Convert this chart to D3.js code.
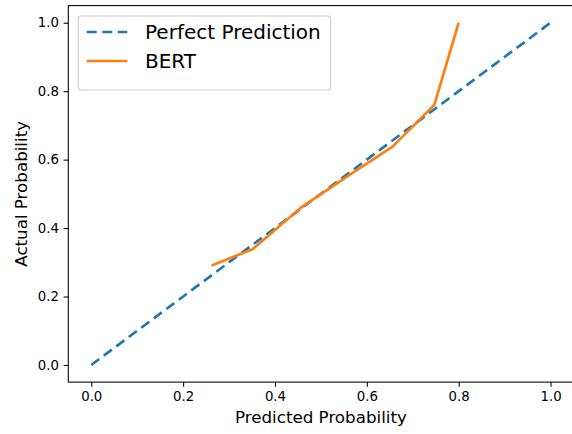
<!DOCTYPE html>
<html>
<head>
    <style>
        body { margin: 0; background: #fff; }
        svg { font-family: "DejaVu Sans", sans-serif; }
        .tick text { font-size: 13.3px; fill: #000; }
        .axis-label { font-size: 16.7px; fill: #000; }
        .legend text { font-size: 20px; fill: #000; }
    </style>
    <script src="https://d3js.org/d3.v7.min.js"></script>
</head>
<body>
    <svg width="572" height="434"></svg>
    <script>
    // perfect calibration diagonal
    var perfectX = [0, 1];
    var perfectY = [0, 1];

    // BERT calibration curve
    var bertX = [0.262, 0.351, 0.455, 0.560, 0.656, 0.747, 0.800];
    var bertY = [0.291, 0.338, 0.458, 0.553, 0.638, 0.760, 1.000];

    var tickValues = [0, 0.2, 0.4, 0.6, 0.8, 1.0];

    function calibrationChart() {
        var svg = d3.select("svg");
        var left = 68.3, right = 573.5, top = 5.6, bottom = 382.1;

        var x = d3.scaleLinear().domain([-0.05, 1.05]).range([left, right]);
        var y = d3.scaleLinear().domain([-0.05, 1.05]).range([bottom, top]);

        var line = d3.line()
                     .x(function(d) { return x(d[0]); })
                     .y(function(d) { return y(d[1]); });

        var perfect = d3.zip(perfectX, perfectY);
        var bert = d3.zip(bertX, bertY);

        svg.append("path")
           .datum(perfect)
           .attr("d", line)
           .attr("fill", "none")
           .attr("stroke", "#1f77b4")
           .attr("stroke-width", 2.67)
           .attr("stroke-dasharray", "10,5.6");

        svg.append("path")
           .datum(bert)
           .attr("d", line)
           .attr("fill", "none")
           .attr("stroke", "#ff7f0e")
           .attr("stroke-width", 2.67)
           .attr("stroke-linejoin", "round");

        // frame
        svg.append("rect")
           .attr("x", left).attr("y", top)
           .attr("width", right - left).attr("height", bottom - top)
           .attr("fill", "none").attr("stroke", "#000").attr("stroke-width", 1.07);

        var xAxis = svg.append("g")
           .attr("transform", "translate(0," + bottom + ")")
           .call(d3.axisBottom(x).tickValues(tickValues).tickFormat(d3.format(".1f"))
                   .tickSize(4.7).tickPadding(4.7));
        var yAxis = svg.append("g")
           .attr("transform", "translate(" + left + ",0)")
           .call(d3.axisLeft(y).tickValues(tickValues).tickFormat(d3.format(".1f"))
                   .tickSize(4.7).tickPadding(4.7));

        [xAxis, yAxis].forEach(function(a) {
            a.select(".domain").remove();
            a.selectAll(".tick line").attr("stroke", "#000").attr("stroke-width", 1.07);
            a.selectAll(".tick text").attr("font-family", null).attr("font-size", null);
        });
        xAxis.attr("font-size", null).attr("font-family", null);
        yAxis.attr("font-size", null).attr("font-family", null);

        svg.append("text")
           .attr("class", "axis-label")
           .attr("x", (left + right) / 2)
           .attr("y", 423.3)
           .attr("text-anchor", "middle")
           .text("Predicted Probability");

        svg.append("text")
           .attr("class", "axis-label")
           .attr("transform", "translate(27.2," + ((top + bottom) / 2) + ") rotate(-90)")
           .attr("text-anchor", "middle")
           .text("Actual Probability");

        // legend
        var legend = svg.append("g").attr("class", "legend");
        legend.append("rect")
              .attr("x", 78.3).attr("y", 16)
              .attr("width", 252.4).attr("height", 74)
              .attr("rx", 3).attr("ry", 3)
              .attr("fill", "#fff").attr("fill-opacity", 0.8)
              .attr("stroke", "#cccccc").attr("stroke-width", 1.07);

        var items = [
            { label: "Perfect Prediction", color: "#1f77b4", dash: "10,5.6", cy: 32 },
            { label: "BERT", color: "#ff7f0e", dash: null, cy: 61 }
        ];
        var item = legend.selectAll(".item").data(items).enter().append("g");
        item.append("line")
            .attr("x1", 86.7).attr("x2", 127.3)
            .attr("y1", function(d) { return d.cy; })
            .attr("y2", function(d) { return d.cy; })
            .attr("stroke", function(d) { return d.color; })
            .attr("stroke-width", 2.67)
            .attr("stroke-dasharray", function(d) { return d.dash; });
        item.append("text")
            .attr("x", 145)
            .attr("y", function(d) { return d.cy + 7.3; })
            .text(function(d) { return d.label; });
    }
    calibrationChart();
    </script>
</body>
</html>
